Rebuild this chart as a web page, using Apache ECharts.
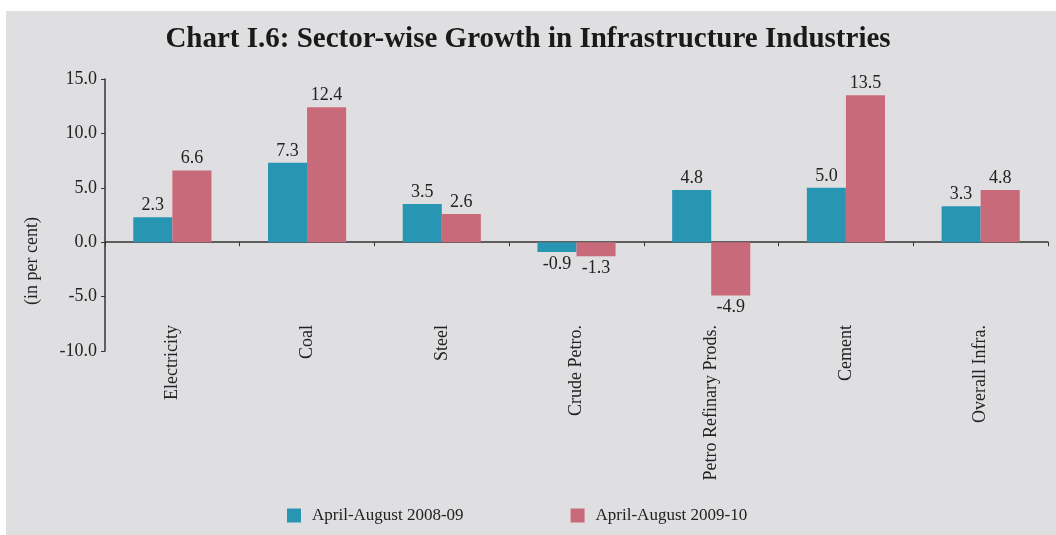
<!DOCTYPE html>
<html>
<head>
<meta charset="utf-8">
<script src="https://cdn.jsdelivr.net/npm/echarts@6/dist/echarts.min.js"></script>
<style>
html,body{margin:0;padding:0;background:#ffffff;}
#c{width:1056px;height:535px;}
</style>
</head>
<body>
<div id="c"></div>
<script>
const categories = ["Electricity","Coal","Steel","Crude Petro.","Petro Refinary Prods.","Cement","Overall Infra."];
const series2008 = [2.3, 7.3, 3.5, -0.9, 4.8, 5.0, 3.3];
const series2009 = [6.6, 12.4, 2.6, -1.3, -4.9, 13.5, 4.8];
const seriesNames = ["April-August 2008-09","April-August 2009-10"];
const yTicks = [-10, -5, 0, 5, 10, 15];

const FONT = '"Liberation Serif","Times New Roman",serif';
const chart = echarts.init(document.getElementById('c'), null, {renderer:'canvas'});

function toItems(arr){
  return arr.map(v => ({value:v, label:{position: v < 0 ? 'bottom' : 'top'}}));
}
const labelCfg = {show:true, fontFamily:FONT, fontSize:18, color:'#222', distance:3, formatter: p => p.value.toFixed(1)};

chart.setOption({
  backgroundColor:'#ffffff',
  animation:false,
  title:{text:'Chart I.6: Sector-wise Growth in Infrastructure Industries', left:'center', top:20,
    textStyle:{fontFamily:FONT, fontSize:29, fontWeight:'bold', color:'#1a1a1a'}},
  legend:{top:507, left:287, padding:0, itemWidth:14, itemHeight:14, itemGap:107, icon:'rect',
    textStyle:{fontFamily:FONT, fontSize:17, color:'#222', padding:[0,0,0,6]}, data:seriesNames},
  grid:{left:105, right:8, top:79, bottom:184, containLabel:false, outerBoundsMode:'none'},
  xAxis:{type:'category', data:categories,
    axisLine:{onZero:true, lineStyle:{color:'#333', width:1.5}},
    axisTick:{show:true, inside:false, length:4, lineStyle:{color:'#333'}},
    axisLabel:{rotate:90, margin:-26, interval:0, fontFamily:FONT, fontSize:18, color:'#222'},
    splitLine:{show:false}},
  yAxis:{type:'value', min:yTicks[0], max:yTicks[yTicks.length-1], interval:5,
    axisLine:{show:true, lineStyle:{color:'#333', width:1.5}},
    axisTick:{show:true, length:4, lineStyle:{color:'#333'}},
    axisLabel:{fontFamily:FONT, fontSize:18, color:'#222', margin:8, formatter: v => v.toFixed(1)},
    splitLine:{show:false}},
  graphic:[
    {type:'rect', z:-100, silent:true, shape:{x:6, y:11, width:1050, height:524}, style:{fill:'#dfdee0'}},
    {type:'text', left:23, top:217, rotation:Math.PI/2,
      style:{text:'(in per cent)', font:'18px ' + FONT, fill:'#222'}}],
  series:[
    {name:seriesNames[0], type:'bar', data:toItems(series2008), barGap:'0%', barCategoryGap:'42%',
      itemStyle:{color:'#2896b3'}, label:labelCfg},
    {name:seriesNames[1], type:'bar', data:toItems(series2009),
      itemStyle:{color:'#c96a7a'}, label:labelCfg}
  ]
});
</script>
</body>
</html>
